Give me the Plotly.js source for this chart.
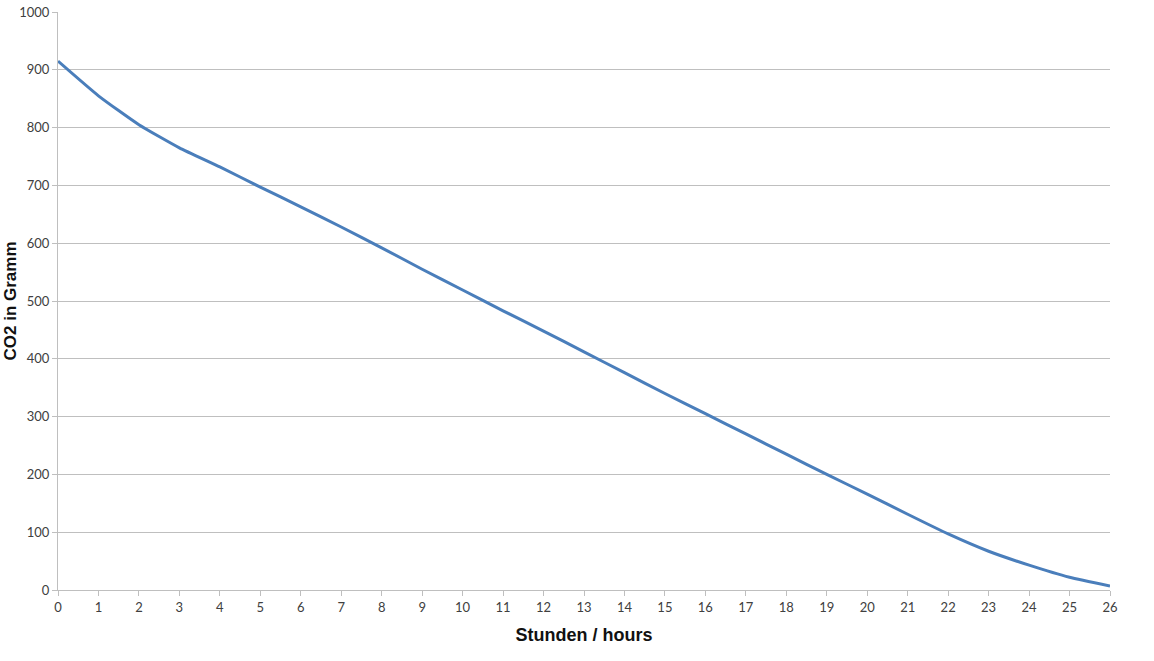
<!DOCTYPE html>
<html>
<head>
<meta charset="utf-8">
<script src="https://cdn.plot.ly/plotly-3.0.1.min.js"></script>
<style>html,body{margin:0;padding:0;background:#fff;overflow:hidden}#chart{width:1154px;height:661px}</style>
</head>
<body>
<div id="chart"></div>
<script>
const hours = [0,1,2,3,4,5,6,7,8,9,10,11,12,13,14,15,16,17,18,19,20,21,22,23,24,25,26];
const co2 = [915,855,805,765,732,697,663,628,592,555,519,483,448,412,376,340,305,270,235,200,166,131,97,67,43,22,7];
const xTitle = 'Stunden / hours';
const yTitle = 'CO2 in Gramm';

const trace = {
  x: hours, y: co2, type: 'scatter', mode: 'lines',
  line: {color: '#4a7ebb', width: 3, shape: 'spline', smoothing: 0.5},
  hoverinfo: 'x+y'
};
const layout = {
  width: 1154, height: 661,
  margin: {l: 58, r: 44, t: 12, b: 71},
  paper_bgcolor: '#fff', plot_bgcolor: '#fff',
  showlegend: false,
  font: {family: 'Lato, "Open Sans", sans-serif', color: '#404040', size: 13},
  xaxis: {
    range: [0, 26], dtick: 1, tick0: 0,
    showgrid: false, zeroline: false,
    showline: true, linecolor: '#bfbfbf', linewidth: 1,
    ticks: 'outside', ticklen: 5, tickcolor: '#bfbfbf',
    tickfont: {size: 13, color: '#404040'},
    title: {text: '<b>' + xTitle + '</b>', font: {family: '"Liberation Sans", Arial, sans-serif', size: 18, color: '#111'}, standoff: 14}
  },
  yaxis: {
    range: [0, 1000], dtick: 100,
    showgrid: true, gridcolor: '#bfbfbf', gridwidth: 1,
    zeroline: false,
    showline: true, linecolor: '#bfbfbf', linewidth: 1,
    ticks: 'outside', ticklen: 5, tickcolor: '#bfbfbf',
    tickfont: {size: 13, color: '#404040'}
  },
  annotations: [{
    text: '<b>' + yTitle + '</b>', xref: 'paper', yref: 'paper',
    x: 0, y: 0.5, xshift: -60, yshift: 0, showarrow: false, textangle: -90,
    font: {family: '"Liberation Sans", Arial, sans-serif', size: 17, color: '#111'}
  }]
};
Plotly.newPlot('chart', [trace], layout, {displayModeBar: false});
</script>
</body>
</html>
